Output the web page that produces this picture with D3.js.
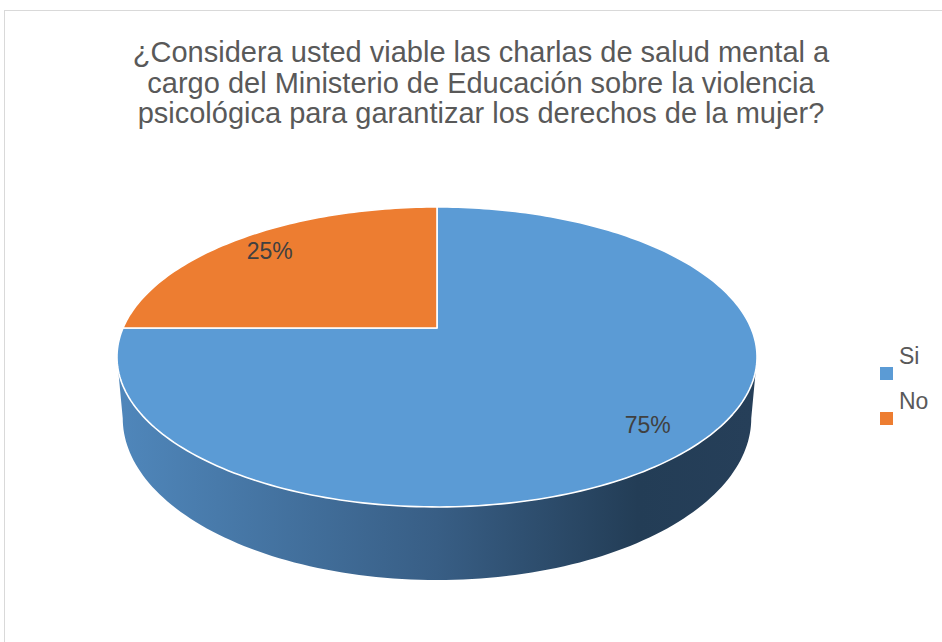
<!DOCTYPE html>
<html>
<head>
<meta charset="utf-8">
<script src="https://cdn.jsdelivr.net/npm/d3@7"></script>
<style>
  body { margin: 0; background: #fff; }
  svg { display: block; font-family: "Liberation Sans", Arial, sans-serif; }
</style>
</head>
<body>
<script>
// datos
var categorias = ["Si", "No"];
var valores = [75, 25];
var etiquetas = ["75%", "25%"];
var colores = ["#5b9bd5", "#ed7d31"];
var titulo = [
  "¿Considera usted viable las charlas de salud mental a",
  "cargo del Ministerio de Educación sobre la violencia",
  "psicológica para garantizar los derechos de la mujer?"
];

var W = 942, H = 642;
var svg = d3.select("body").append("svg")
  .attr("width", W)
  .attr("height", H);

// marco del área del gráfico
svg.append("rect")
  .attr("x", 4.5).attr("y", 10.5)
  .attr("width", W + 20).attr("height", H + 20)
  .attr("fill", "#fff")
  .attr("stroke", "#d9d9d9");

// título
svg.append("g").selectAll("text")
  .data(titulo)
  .enter()
  .append("text")
  .attr("x", 481)
  .attr("y", function (d, i) { return 62 + i * 30.5; })
  .attr("text-anchor", "middle")
  .attr("font-size", "29px")
  .attr("fill", "#595959")
  .text(function (d) { return d; });

// proyección 3D (perspectiva simple)
var cx = 437, cy = 328;
var A = 314, B = 144.4, k = 0.193, prof = 59, enc = 0.982;

function proy(ang, r, abajo) {
  var x = Math.sin(ang) * r, z = -Math.cos(ang) * r;
  var w = 1 - k * z;
  var s = abajo ? enc : 1;
  return [cx + A * s * x / w, cy + (B * z + (abajo ? prof : 0)) / w];
}

var pie = d3.pie().sort(null).value(function (d) { return d; });
var arcos = pie(valores);

var defs = svg.append("defs");
var grad = defs.append("linearGradient")
  .attr("id", "lado")
  .attr("gradientUnits", "userSpaceOnUse")
  .attr("x1", cx - A).attr("x2", cx + A)
  .attr("y1", 0).attr("y2", 0);
[["0%", "#4f86ba"], ["50%", "#385e85"], ["82%", "#233d56"], ["100%", "#263f59"]]
  .forEach(function (s) {
    grad.append("stop").attr("offset", s[0]).attr("stop-color", s[1]);
  });

// pared lateral (frente del cilindro)
var t0 = Math.asin(k);
var a1 = Math.PI / 2 + t0, a2 = 3 * Math.PI / 2 - t0;
var pasos = d3.range(0, 121).map(function (i) { return a1 + (a2 - a1) * i / 120; });
var ptsPared = pasos.map(function (a) { return proy(a, 1, false); })
  .concat(pasos.slice().reverse().map(function (a) { return proy(a, 1, true); }));
svg.append("path")
  .attr("d", d3.line()(ptsPared) + "Z")
  .attr("fill", "url(#lado)");

// cara superior
function rebanada(d) {
  var n = Math.max(8, Math.ceil((d.endAngle - d.startAngle) / 0.02));
  var pts = [proy(0, 0, false)];
  for (var i = 0; i <= n; i++) {
    pts.push(proy(d.startAngle + (d.endAngle - d.startAngle) * i / n, 1, false));
  }
  return d3.line()(pts) + "Z";
}

svg.append("g").selectAll("path")
  .data(arcos)
  .enter()
  .append("path")
  .attr("d", rebanada)
  .attr("fill", function (d, i) { return colores[i]; })
  .attr("stroke", "#fff")
  .attr("stroke-width", 1.6)
  .attr("stroke-linejoin", "round");

// etiquetas de datos
svg.append("g").selectAll("text")
  .data(arcos)
  .enter()
  .append("text")
  .attr("x", function (d) { return proy((d.startAngle + d.endAngle) / 2, 0.84, false)[0]; })
  .attr("y", function (d) { return proy((d.startAngle + d.endAngle) / 2, 0.84, false)[1] + 8; })
  .attr("text-anchor", "middle")
  .attr("font-size", "23px")
  .attr("fill", "#404040")
  .text(function (d, i) { return etiquetas[i]; });

// leyenda
var ley = svg.append("g").selectAll("g")
  .data(categorias)
  .enter()
  .append("g")
  .attr("transform", function (d, i) { return "translate(880," + (367 + i * 45) + ")"; });
ley.append("rect")
  .attr("width", 13).attr("height", 13)
  .attr("fill", function (d, i) { return colores[i]; });
ley.append("text")
  .attr("x", 19).attr("y", -3)
  .attr("font-size", "23px")
  .attr("fill", "#595959")
  .text(function (d) { return d; });
</script>
</body>
</html>
